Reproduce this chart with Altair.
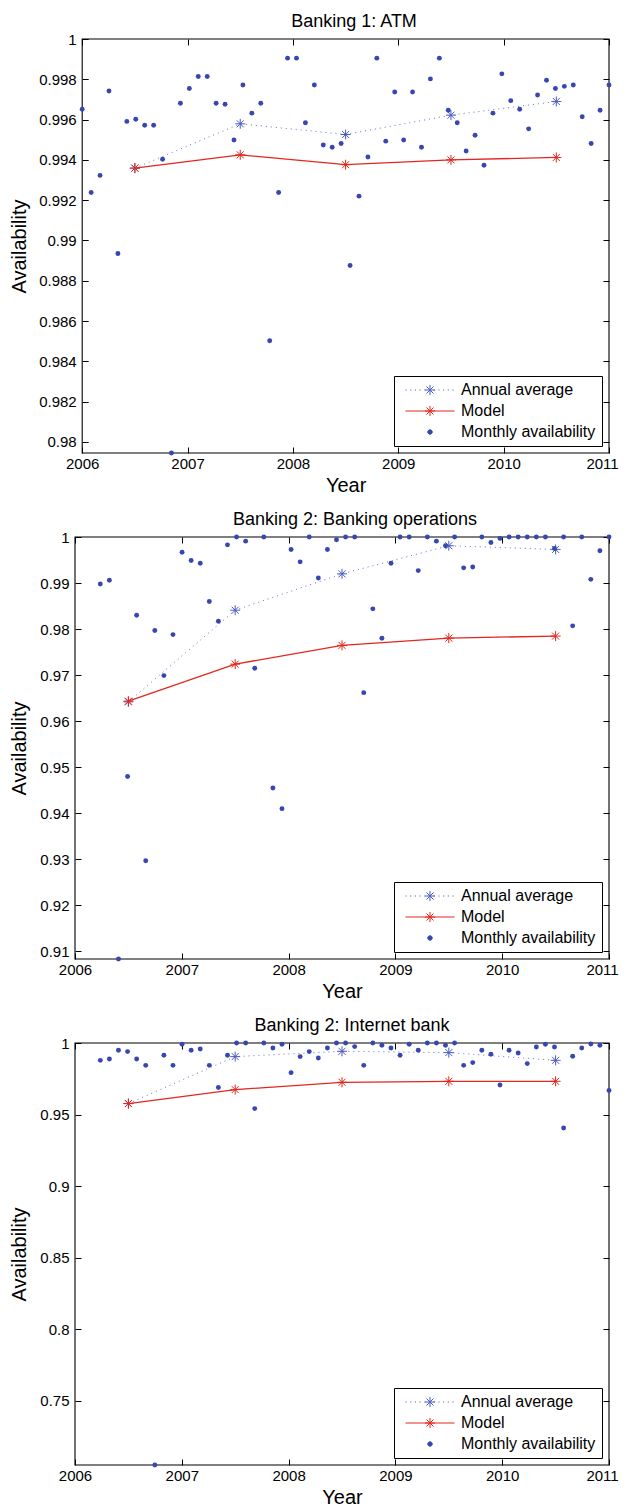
import altair as alt
import numpy as np
import pandas as pd

# ---------------- data ----------------
YEAR_TICKS = [2006, 2007, 2008, 2009, 2010, 2011]
YEAR_MID = [2006.5, 2007.5, 2008.5, 2009.5, 2010.5]
SERIES = ["Annual average", "Model", "Monthly availability"]

# Banking 1: ATM  (Jan 2006 - Dec 2010)
ATM_MONTHLY = [0.99651, 0.99238, 0.99323, 0.99742, 0.98935, 0.99591, 0.99602, 0.99572, 0.99572, 0.99403, 0.97945, 0.99681,
               0.99754, 0.99814, 0.99814, 0.99681, 0.99676, 0.99499, 0.99772, 0.99632, 0.99681, 0.98502, 0.99238, 0.99905,
               0.99905, 0.99584, 0.99772, 0.99474, 0.99463, 0.99481, 0.98876, 0.99220, 0.99414, 0.99905, 0.99493, 0.99737,
               0.99499, 0.99737, 0.99463, 0.99802, 0.99905, 0.99646, 0.99584, 0.99444, 0.99522, 0.99373, 0.99632, 0.99827,
               0.99694, 0.99651, 0.99554, 0.99722, 0.99795, 0.99754, 0.99765, 0.99772, 0.99614, 0.99481, 0.99646, 0.99772]
ATM_ANNUAL = [0.99359, 0.99579, 0.99526, 0.99622, 0.99690]
ATM_MODEL = [0.99359, 0.99425, 0.99376, 0.99400, 0.99412]
ATM_YTICKS = [0.98, 0.982, 0.984, 0.986, 0.988, 0.99, 0.992, 0.994, 0.996, 0.998, 1.0]

# Banking 2: Banking operations  (Apr 2006 - Dec 2010)
OPS_MONTHLY = [0.9898, 0.9906, 0.90835, 0.9480, 0.9830, 0.9297, 0.9797, 0.9699, 0.9788,
               0.9967, 0.9949, 0.9943, 0.9860, 0.9817, 0.9983, 1.0, 0.9991, 0.9715, 1.0, 0.9455, 0.9410,
               0.9973, 0.9946, 1.0, 0.9911, 0.9973, 0.9994, 1.0, 1.0, 0.9662, 0.9844, 0.9780, 0.9943,
               1.0, 1.0, 0.9927, 1.0, 0.9991, 0.9981, 1.0, 0.9933, 0.9935, 1.0, 0.9988, 0.9997,
               1.0, 1.0, 1.0, 1.0, 1.0, 0.9975, 1.0, 0.9807, 1.0, 0.9908, 0.9970, 1.0]
OPS_ANNUAL = [0.9642, 0.9841, 0.9920, 0.9981, 0.9973]
OPS_MODEL = [0.96435, 0.97239, 0.97646, 0.97804, 0.97848]
OPS_YTICKS = [0.91, 0.92, 0.93, 0.94, 0.95, 0.96, 0.97, 0.98, 0.99, 1.0]

# Banking 2: Internet bank  (Apr 2006 - Dec 2010)
NET_MONTHLY = [0.9879, 0.9888, 0.9949, 0.9940, 0.9888, 0.9844, 0.7053, 0.9914, 0.9844,
               0.9991, 0.9949, 0.9958, 0.9844, 0.9689, 0.9914, 1.0, 1.0, 0.9542, 1.0, 0.9965, 0.9991,
               0.9793, 0.9905, 0.9940, 0.9895, 0.9965, 1.0, 1.0, 0.9975, 0.9844, 1.0, 0.9984, 0.9965,
               0.9914, 0.9991, 0.9949, 1.0, 1.0, 0.9984, 1.0, 0.9844, 0.9863, 0.9949, 0.9921, 0.9707,
               0.9949, 0.9930, 0.9856, 0.9972, 0.9991, 0.9972, 0.9406, 0.9907, 0.9965, 0.9993, 0.9984, 0.9668]
NET_ANNUAL = [0.9577, 0.9905, 0.9942, 0.9933, 0.9879]
NET_MODEL = [0.9577, 0.96746, 0.97256, 0.97325, 0.97325]
NET_YTICKS = [0.75, 0.8, 0.85, 0.9, 0.95, 1.0]

# x grid of the monthly samples (first sample year, last sample year)
ATM_X = np.linspace(2006.0, 2011.0, len(ATM_MONTHLY))
OPS_X = np.linspace(2006.237, 2011.0, len(OPS_MONTHLY))
NET_X = np.linspace(2006.237, 2011.0, len(NET_MONTHLY))

# ---------------- style ----------------
FONT = "Liberation Sans"
BLUE_D = "#3747b0"
BLUE_S = "#4d5cc2"
BLUE_L = "#6470cc"
RED = "#e2271f"
TICK = 6
PANEL_W = 534

ASTER = "M0,-1L0,1M-1,0L1,0M-0.7,-0.7L0.7,0.7M-0.7,0.7L0.7,-0.7"
_dots = "".join("M%.2f,0L%.2f,0" % (x, x + 0.22) for x in np.arange(-4.9, 4.9, 0.94))
LEG_ANN = _dots + ASTER
LEG_MOD = "M-4.9,0L4.9,0" + ASTER
LEG_DOT = "M0.45,0A0.45,0.45 0 1,1 -0.45,0A0.45,0.45 0 1,1 0.45,0Z"

# keep the last year label inside the page
LAST_LABEL_SHIFT = {"condition": {"test": "datum.value == 2011", "value": -7}, "value": 0}


def panel(title, xs, monthly, annual, model, yticks, height, left_inset, title_pad, dx):
    ymin = min(monthly)
    xsc = alt.Scale(domain=[2006, 2011], nice=False, zero=False, range=[left_inset, PANEL_W])
    ysc = alt.Scale(domain=[ymin, 1.0], nice=False, zero=False)
    mon = pd.DataFrame({"year": xs, "value": monthly})
    ann = pd.DataFrame({"year": YEAR_MID, "value": annual})
    mod = pd.DataFrame({"year": YEAR_MID, "value": model})
    box = pd.DataFrame({"x0": [2006], "x1": [2011], "y0": [ymin], "y1": [1.0]})

    x_bottom = alt.X("year:Q", scale=xsc, axis=alt.Axis(
        orient="bottom", values=YEAR_TICKS, format="d", title="Year", offset=-TICK,
        tickSize=TICK, domain=False, grid=False, labelPadding=3, titlePadding=4, labelFlush=False,
        labelOffset=LAST_LABEL_SHIFT))
    y_left = alt.Y("value:Q", scale=ysc, axis=alt.Axis(
        orient="left", values=yticks, format="~g", title="Availability", offset=-(TICK + left_inset),
        tickSize=TICK, domain=False, grid=False, labelPadding=6, titlePadding=title_pad, labelFlush=False))
    x_top = alt.X("year:Q", scale=xsc, axis=alt.Axis(
        orient="top", values=YEAR_TICKS, labels=False, title=None, offset=-TICK,
        tickSize=TICK, domain=False, grid=False))
    y_right = alt.Y("value:Q", scale=ysc, axis=alt.Axis(
        orient="right", values=yticks, labels=False, title=None, offset=-TICK,
        tickSize=TICK, domain=False, grid=False))
    x_none = alt.X("year:Q", scale=xsc, axis=None)
    y_none = alt.Y("value:Q", scale=ysc, axis=None)

    frame = alt.Chart(box).mark_rect(fillOpacity=0, stroke="black", strokeWidth=1.1).encode(
        x=alt.X("x0:Q", scale=xsc, axis=None), x2="x1:Q",
        y=alt.Y("y0:Q", scale=ysc, axis=None), y2="y1:Q")
    ann_line = alt.Chart(ann).mark_line(color=BLUE_L, strokeWidth=1, strokeDash=[1, 4]).encode(x=x_bottom, y=y_left)
    ann_pts = alt.Chart(ann).mark_point(shape=ASTER, size=100, filled=False, color=BLUE_S,
                                        strokeWidth=1, opacity=1).encode(x=x_top, y=y_right)
    mod_line = alt.Chart(mod).mark_line(color=RED, strokeWidth=1.3).encode(x=x_none, y=y_none)
    mod_pts = alt.Chart(mod).mark_point(shape=ASTER, size=100, filled=False, color=RED,
                                        strokeWidth=1, opacity=1).encode(x=x_none, y=y_none)
    mon_pts = alt.Chart(mon).mark_circle(size=24, color=BLUE_D, opacity=1).encode(x=x_none, y=y_none)

    leg = alt.Legend(title=None, orient="bottom-right", offset=7, padding=6, symbolSize=100,
                     symbolStrokeWidth=1, symbolOffset=22, labelOffset=23, labelFont=FONT,
                     labelFontSize=16, labelColor="black", strokeColor="black", fillColor="white",
                     rowPadding=5, symbolOpacity=1, labelLimit=400)
    leg_layer = alt.Chart(pd.DataFrame({"series": SERIES})).transform_filter("false").mark_point(
        filled=True, strokeWidth=1, opacity=1).encode(
        shape=alt.Shape("series:N", scale=alt.Scale(domain=SERIES, range=[LEG_ANN, LEG_MOD, LEG_DOT]), legend=leg),
        stroke=alt.Stroke("series:N", scale=alt.Scale(domain=SERIES, range=[BLUE_S, RED, BLUE_D]), legend=leg),
        fill=alt.Fill("series:N", scale=alt.Scale(domain=SERIES, range=[BLUE_S, RED, BLUE_D]), legend=leg),
    )
    return alt.layer(frame, ann_line, ann_pts, mod_line, mod_pts, mon_pts, leg_layer).resolve_axis(
        x="independent", y="independent").properties(
        width=PANEL_W, height=height,
        title=alt.TitleParams(title, anchor="middle", frame="group", offset=1.5, dx=dx))


p1 = panel("Banking 1: ATM", ATM_X, ATM_MONTHLY, ATM_ANNUAL, ATM_MODEL, ATM_YTICKS, 414, 7.2, 9, 12)
p2 = panel("Banking 2: Banking operations", OPS_X, OPS_MONTHLY, OPS_ANNUAL, OPS_MODEL, OPS_YTICKS, 422, 0, 10.8, 13)
p3 = panel("Banking 2: Internet bank", NET_X, NET_MONTHLY, NET_ANNUAL, NET_MODEL, NET_YTICKS, 422, 0, 10.8, 10)

chart = alt.vconcat(p1, p2, p3, spacing=15).resolve_scale(
    shape="independent", stroke="independent", fill="independent").properties(
    padding={"left": 1, "top": 4, "right": 0, "bottom": 0}, background="white").configure_view(
    stroke=None).configure_axis(
    labelFont=FONT, labelFontSize=15, labelColor="black", titleFont=FONT, titleFontSize=20,
    titleFontWeight="normal", titleColor="black", tickColor="black", tickWidth=1).configure_title(
    font=FONT, fontSize=18, fontWeight="normal", color="black")

chart.save("out.html", embed_options={"renderer": "svg", "actions": False})
